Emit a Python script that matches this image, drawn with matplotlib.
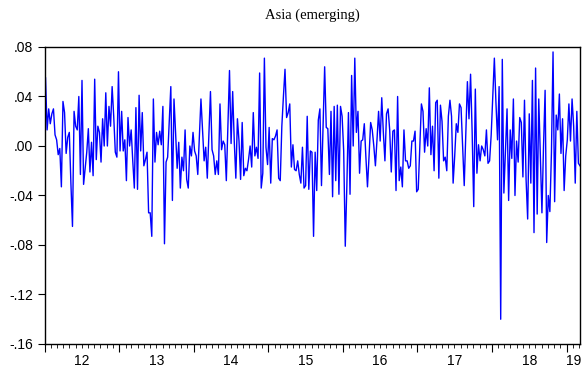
import numpy as np
import pandas as pd
import matplotlib
matplotlib.use("Agg")
import matplotlib.pyplot as plt
import matplotlib.dates as mdates
import matplotlib.ticker as mticker
from matplotlib.transforms import blended_transform_factory

# ---------------- data ----------------
title = "Asia (emerging)"
axis_start = "2012-01-01"
start_date = "2012-01-06"
end_date = "2019-03-08"

returns_seg1 = [.055, .013, .030, .018, .026, .030, .009, .005, -.007, -.002,
                -.033, .036, .027, -.006, .007, .011, -.030, -.065, .028, .016, .013,
                .040, -.023, .053, -.031, -.018, -.005, .014, -.021, .003, -.024, .054,
                -.011, .016, .011, -.013, .022, .000, .043, .000, .032, .016,
                .048, .024, -.005, -.009, .060, -.004, .028, -.004, .005, -.028,
                .023, .000, .013, -.012, -.034]
returns_seg2 = [.031, -.035, .041, -.004, .027, -.016, -.011, -.005, -.054, -.054,
                -.073, .038, -.013, .011, .001, .012, .001, .032, -.079, -.013,
                -.009, .019, .048, -.044, .038, .011, -.018, .003, -.034, -.009,
                -.020, .013, -.027, -.034, .000, -.008, .011, -.004, -.008, -.023,
                .008, .038, .013, -.012, -.001, -.026, .008, .044, -.003, -.008,
                -.023, -.012, -.023, .034]
returns_seg3 = [-.003, .004, .001, -.028, .016, .061, .002, .044, .004, -.026,
                .022, .004, -.027, .019, -.024, -.018, -.020, -.011, .000, -.017,
                .027, -.008, -.001, -.010, .059, -.034, -.022, .071, -.001, -.015,
                .015, -.030, .006, .005, .008, .013, -.026, -.028, .016, .040,
                .062, .023, .027, .034, -.017, .001, -.019, -.020, -.012, -.023,
                -.030, -.001, -.034, -.032, .024]
returns_seg4 = [-.035, -.004, -.005, -.073, -.005, -.036, .021, .030, -.032, .016,
                .064, .015, .014, -.023, .028, -.041, .032, -.028, .033, -.039,
                .032, .024, -.004, -.081, -.032, .027, -.039, .057, .000, .071,
                .011, .028, -.022, .004, .005, .018, -.009, -.033, -.008, .019,
                .013, .000, -.016, .005, .028, .004, .039, .011, -.012, .026,
                .030, .013, -.021, .012, .013, -.036, .040, -.028]
returns_seg5 = [-.017, -.033, .013, -.012, -.012, -.018, -.016, .004, .004, .012,
                -.037, -.035, .000, .034, .028, -.005, .014, .000, .047, -.007,
                .016, -.020, .035, .037, -.026, .033, .020, -.012, -.009, -.020,
                .024, .037, .024, -.030, -.008, .018, .011, .034, .031, -.001,
                -.032, .011, .052, .022, .058, .011, -.049, .046, -.022, .001,
                -.012, .000, -.003, -.008, .013, -.014, -.012]
returns_seg6 = [.009, .040, .071, .035, .005, .048, -.140, .070, -.038, -.005,
                .030, -.044, .013, -.010, .038, -.040, .004, -.013, .023, .019,
                -.025, .037, -.027, -.059, .026, -.030, .053, -.070, .063, -.055,
                .038, -.008, -.054, .000, .045, -.078, -.040, -.053, -.005, .076,
                -.045, .025, .013, .042, -.006, .022, -.036, -.008, .005, .034,
                .004, .038, .016, -.030, .028, -.014, -.016]

year_labels = ["12", "13", "14", "15", "16", "17", "18", "19"]
y_ticks = [0.08, 0.04, 0.00, -0.04, -0.08, -0.12, -0.16]

# ---------------- figure ----------------
values = np.array(returns_seg1 + returns_seg2 + returns_seg3 + returns_seg4
                  + returns_seg5 + returns_seg6)
dates = pd.date_range(start_date, end_date, periods=len(values))

fig = plt.figure(figsize=(5.82, 3.71), dpi=100)
ax = fig.add_axes([44.5 / 582, 1 - 344 / 371, (580 - 44.5) / 582, (344 - 47) / 371])

ax.plot(dates, values, color="#0000FF", lw=1.0)

xmin, xmax = pd.Timestamp(axis_start), dates[-1]
ax.set_xlim(xmin, xmax)
ax.set_ylim(-0.16, 0.08)

for s in ax.spines.values():
    s.set_color("black")
    s.set_linewidth(1.0)

ax.set_yticks(y_ticks)
ax.yaxis.set_major_formatter(mticker.FuncFormatter(
    lambda v, p: f"{v:.2f}".replace("0.", ".")))
ax.tick_params(axis="y", direction="out", length=5, width=0.8, pad=3,
               labelsize=10, colors="black")

ax.xaxis.set_major_locator(mdates.YearLocator())
ax.xaxis.set_minor_locator(mdates.MonthLocator())
ax.xaxis.set_major_formatter(mticker.NullFormatter())
ax.tick_params(axis="x", which="major", direction="out", length=6, width=0.8)
ax.tick_params(axis="x", which="minor", direction="out", length=3, width=0.6)

trans = blended_transform_factory(ax.transData, ax.transAxes)
for i, lab in enumerate(year_labels):
    y0 = pd.Timestamp(f"{2012 + i}-01-01")
    y1 = pd.Timestamp(f"{2013 + i}-01-01")
    lo = max(y0, xmin)
    hi = min(y1, xmax)
    mid = lo + (hi - lo) / 2
    ax.text(mdates.date2num(mid), -0.057, lab, transform=trans,
            ha="center", va="center", fontsize=10,
            family=["Liberation Sans", "DejaVu Sans"], clip_on=False)

for t in ax.get_yticklabels():
    t.set_family(["Liberation Sans", "DejaVu Sans"])

fig.text((44.5 + 580) / 2 / 582, 1 - 15 / 371, title, ha="center", va="center",
         fontsize=10.5, family=["Liberation Serif", "DejaVu Serif"])

fig.savefig("out.png", dpi=100)
